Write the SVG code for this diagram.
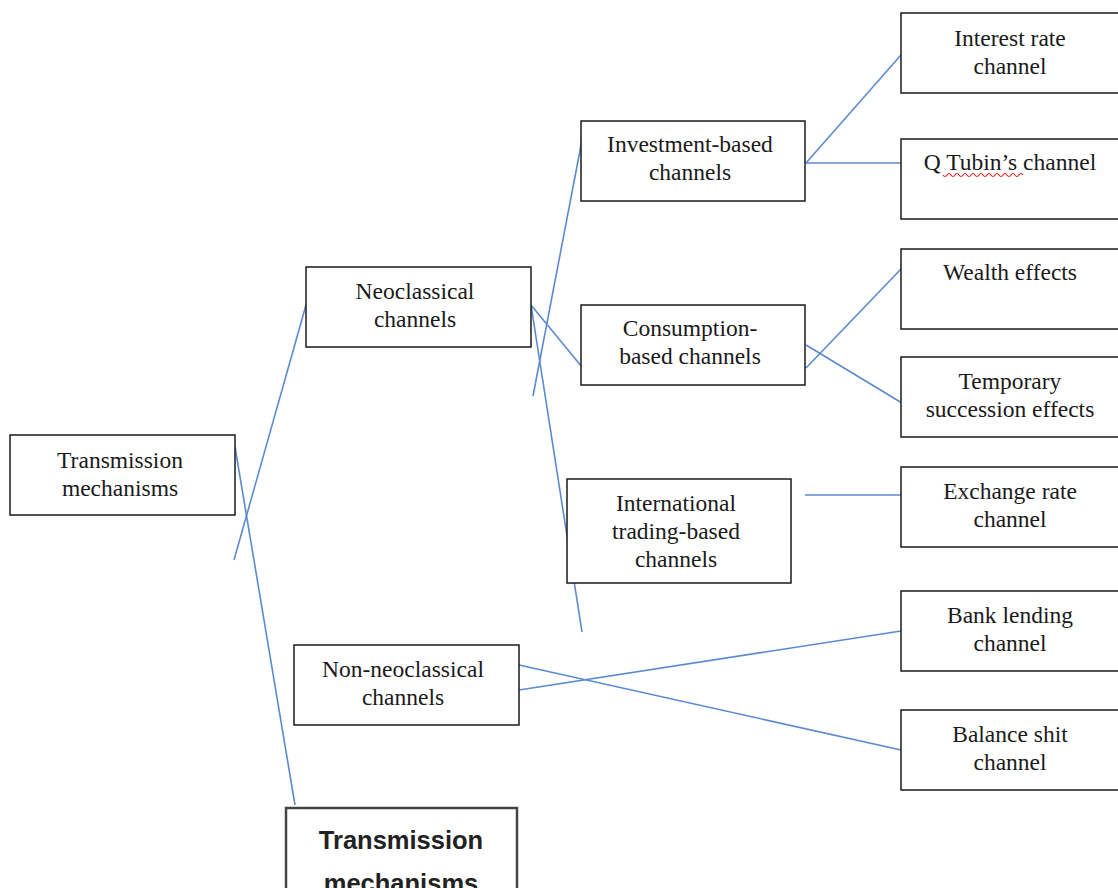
<svg xmlns="http://www.w3.org/2000/svg" width="1118" height="888" viewBox="0 0 1118 888">
<style>
.box{fill:#fff;stroke:#1a1a1a;stroke-width:1.5}
.t{font-family:"Liberation Serif","Times New Roman",serif;font-size:23.5px;fill:#1a1a1a;text-anchor:middle}
.c line{stroke:#5b8ad0;stroke-width:1.6}
.b{font-family:"Liberation Sans",Arial,sans-serif;font-weight:bold;font-size:25.5px;fill:#222;text-anchor:middle}
</style>
<rect width="1118" height="888" fill="#fff"/>
<g class="c" id="connectors">
<line x1="234" y1="560" x2="306" y2="305"/>
<line x1="235" y1="447" x2="295" y2="805"/>
<line x1="531" y1="305" x2="582" y2="367"/>
<line x1="531" y1="305" x2="582" y2="632"/>
<line x1="533" y1="396" x2="582" y2="140"/>
<line x1="806" y1="163" x2="901" y2="55"/>
<line x1="806" y1="163" x2="901" y2="163"/>
<line x1="806" y1="368" x2="902" y2="268"/>
<line x1="806" y1="345" x2="902" y2="403"/>
<line x1="805" y1="495" x2="901" y2="495"/>
<line x1="519" y1="690" x2="901" y2="631"/>
<line x1="519" y1="665" x2="901" y2="750"/>
</g>
<g id="n-trans"><rect class="box" x="10" y="435" width="225" height="80"/><text class="t" x="120" y="468">Transmission</text><text class="t" x="120" y="496">mechanisms</text></g>
<g id="n-neo"><rect class="box" x="306" y="267" width="225" height="80"/><text class="t" x="415" y="299">Neoclassical</text><text class="t" x="415" y="327">channels</text></g>
<g id="n-nonneo"><rect class="box" x="294" y="645" width="225" height="80"/><text class="t" x="403" y="677">Non-neoclassical</text><text class="t" x="403" y="705">channels</text></g>
<g id="n-trans2"><rect x="286" y="808" width="231" height="100" fill="#fff" stroke="#444" stroke-width="2.5"/><text class="b" x="401" y="849">Transmission</text><text class="b" x="401" y="892">mechanisms</text></g>
<g id="n-invest"><rect class="box" x="581" y="121" width="224" height="80"/><text class="t" x="690" y="152">Investment-based</text><text class="t" x="690" y="180">channels</text></g>
<g id="n-consum"><rect class="box" x="581" y="305" width="224" height="80"/><text class="t" x="690" y="336">Consumption-</text><text class="t" x="690" y="364">based channels</text></g>
<g id="n-intl"><rect class="box" x="567" y="479" width="224" height="104"/><text class="t" x="676" y="511">International</text><text class="t" x="676" y="539">trading-based</text><text class="t" x="676" y="567">channels</text></g>
<g id="n-interest"><rect class="box" x="901" y="13" width="222" height="80"/><text class="t" x="1010" y="46">Interest rate</text><text class="t" x="1010" y="74">channel</text></g>
<g id="n-q"><rect class="box" x="901" y="139" width="222" height="80"/><text class="t" x="1010" y="170">Q Tubin’s channel</text><path d="M943,175 q2,3 4,0 t4,0 t4,0 t4,0 t4,0 t4,0 t4,0 t4,0 t4,0 t4,0 t4,0 t4,0 t4,0 t4,0 t4,0 t4,0 t4,0 t4,0 t4,0 t4,0" fill="none" stroke="#e02020" stroke-width="1.2"/></g>
<g id="n-wealth"><rect class="box" x="901" y="249" width="222" height="80"/><text class="t" x="1010" y="280">Wealth effects</text></g>
<g id="n-temp"><rect class="box" x="901" y="357" width="222" height="80"/><text class="t" x="1010" y="389">Temporary</text><text class="t" x="1010" y="417">succession effects</text></g>
<g id="n-exch"><rect class="box" x="901" y="467" width="222" height="80"/><text class="t" x="1010" y="499">Exchange rate</text><text class="t" x="1010" y="527">channel</text></g>
<g id="n-bank"><rect class="box" x="901" y="591" width="222" height="80"/><text class="t" x="1010" y="623">Bank lending</text><text class="t" x="1010" y="651">channel</text></g>
<g id="n-balance"><rect class="box" x="901" y="710" width="222" height="80"/><text class="t" x="1010" y="742">Balance shit</text><text class="t" x="1010" y="770">channel</text></g>
</svg>
